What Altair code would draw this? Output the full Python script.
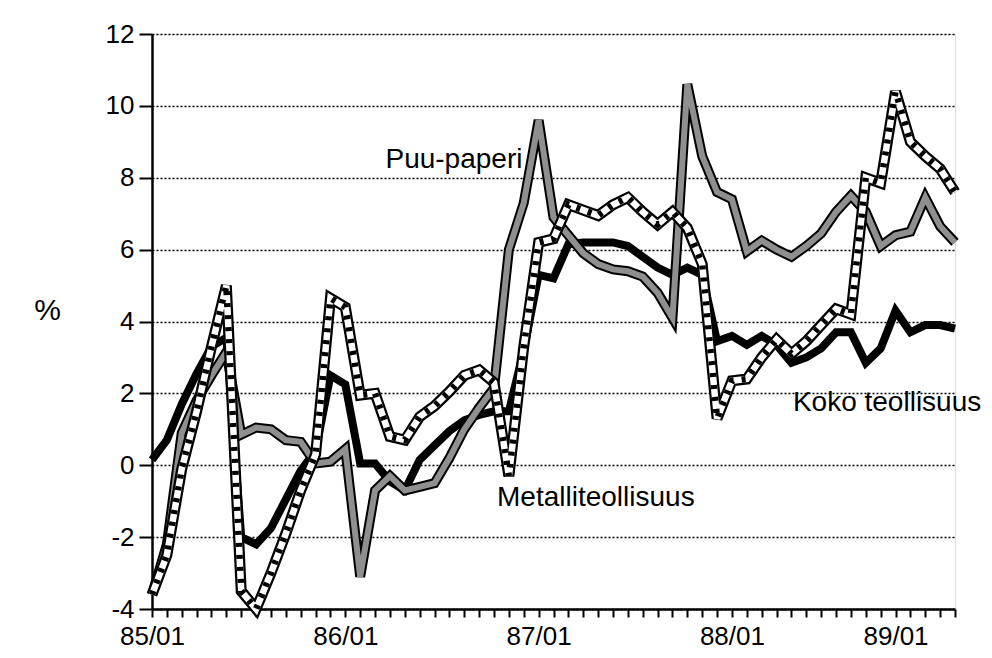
import altair as alt
import pandas as pd

# months 85/01 .. 89/07 (index 0..54)
months = list(range(55))

koko_teollisuus = [
    0.15, 0.7, 1.7, 2.55, 3.3, 3.55, -2.0, -2.2, -1.75, -0.95,
    -0.15, 0.4, 2.5, 2.25, 0.05, 0.05, -0.45, -0.7, 0.15, 0.55,
    0.95, 1.25, 1.4, 1.5, 1.5, 3.2, 5.3, 5.2, 6.15, 6.2,
    6.2, 6.2, 6.1, 5.8, 5.5, 5.3, 5.5, 5.3, 3.45, 3.6,
    3.35, 3.6, 3.35, 2.85, 3.0, 3.25, 3.7, 3.7, 2.85, 3.25,
    4.3, 3.7, 3.9, 3.9, 3.8,
]

metalliteollisuus = [
    -3.6, -2.5, -0.1, 1.5, 3.3, 5.0, -3.5, -4.0, -3.0, -1.9,
    -0.7, 0.3, 4.65, 4.4, 1.95, 2.0, 0.8, 0.7, 1.35, 1.65,
    2.05, 2.5, 2.65, 2.3, -0.3, 3.3, 6.2, 6.3, 7.25, 7.1,
    6.95, 7.25, 7.45, 7.05, 6.7, 7.05, 6.6, 5.6, 1.3, 2.35,
    2.4, 3.0, 3.5, 3.1, 3.45, 3.9, 4.35, 4.2, 8.0, 7.85,
    10.4, 9.0, 8.6, 8.25, 7.6,
]

puu_paperi = [
    -3.6, -2.2, 0.9, 1.8, 2.5, 3.15, 0.85, 1.05, 1.0, 0.7,
    0.65, 0.05, 0.1, 0.45, -3.1, -0.7, -0.3, -0.7, -0.6, -0.5,
    0.2, 1.0, 1.6, 2.15, 6.0, 7.3, 9.6, 6.9, 6.4, 5.9,
    5.6, 5.45, 5.4, 5.25, 4.8, 4.1, 10.6, 8.6, 7.6, 7.4,
    5.95, 6.25, 6.0, 5.8, 6.1, 6.45, 7.05, 7.5, 7.05, 6.1,
    6.4, 6.5, 7.45, 6.65, 6.2,
]

x_label_months = [0, 13, 26, 39, 50]
x_label_texts = ["85/01", "86/01", "87/01", "88/01", "89/01"]

y_ticks = [-4, -2, 0, 2, 4, 6, 8, 10, 12]

label_texts = ["Puu-paperi", "Metalliteollisuus", "Koko teollisuus"]
label_months = [15.7, 23.2, 43.1]
label_values = [8.5, -0.92, 1.73]

df = pd.DataFrame({
    "m": months,
    "koko": koko_teollisuus,
    "metalli": metalliteollisuus,
    "puu": puu_paperi,
})
labels_df = pd.DataFrame({"m": label_months, "v": label_values, "t": label_texts})

label_expr = " : ".join(
    f"datum.value == {m} ? '{t}'" for m, t in zip(x_label_months, x_label_texts)
) + " : ''"

FONT = "Liberation Sans"

x_scale = alt.Scale(domain=[0, 54], nice=False, zero=False)
y_scale = alt.Scale(domain=[-4, 12], nice=False, zero=False)

x_axis = alt.Axis(
    values=months, labelExpr=label_expr, title=None, grid=False,
    tickSize=8, tickWidth=2, tickColor="black", domainColor="black",
    domainWidth=2.5, labelFontSize=26, labelFont=FONT, labelColor="black",
    labelOverlap=False, labelFlush=False, labelPadding=6, labelBound=False,
    tickCount=55,
)
y_axis = alt.Axis(
    values=y_ticks, title="%", titleAngle=0, titleAlign="center",
    titleBaseline="middle", titleX=-105, titleY=276, titleFontSize=30,
    titleFont=FONT, titleFontWeight="normal", titleColor="black",
    labelExpr="datum.value < 0 ? '-' + abs(datum.value) : '' + datum.value",
    grid=True, gridDash=[2, 2], gridColor="black", gridWidth=1.5, gridOpacity=1,
    tickSize=13, tickWidth=2, tickColor="black", domainColor="black",
    domainWidth=2.5, labelFontSize=26, labelFont=FONT, labelColor="black",
    labelPadding=5, labelOverlap=False,
)

base = alt.Chart(df)

def line(col, **kw):
    return base.mark_line(clip=False, **kw).encode(
        x=alt.X("m:Q", scale=x_scale, axis=x_axis),
        y=alt.Y(f"{col}:Q", scale=y_scale, axis=y_axis),
    )

layers = [
    line("koko", color="black", strokeWidth=8),
    line("puu", color="black", strokeWidth=10),
    line("puu", color="#8f8f8f", strokeWidth=6),
    line("metalli", color="black", strokeWidth=11),
    line("metalli", color="white", strokeWidth=6.5),
    line("metalli", color="black", strokeWidth=6.5, strokeDash=[4, 8]),
]

text = alt.Chart(labels_df).mark_text(
    align="left", baseline="middle", fontSize=28, font=FONT, color="black"
).encode(
    x=alt.X("m:Q", scale=x_scale, axis=x_axis),
    y=alt.Y("v:Q", scale=y_scale, axis=y_axis),
    text="t:N",
)

chart = alt.layer(*layers, text).properties(
    width=803, height=575,
    autosize=alt.AutoSizeParams(type="none"),
    padding={"left": 144, "top": 26, "right": 29, "bottom": 40},
).configure_view(stroke=None).configure(background="white")

chart.save("out.html", embed_options={"renderer": "svg", "actions": False})
